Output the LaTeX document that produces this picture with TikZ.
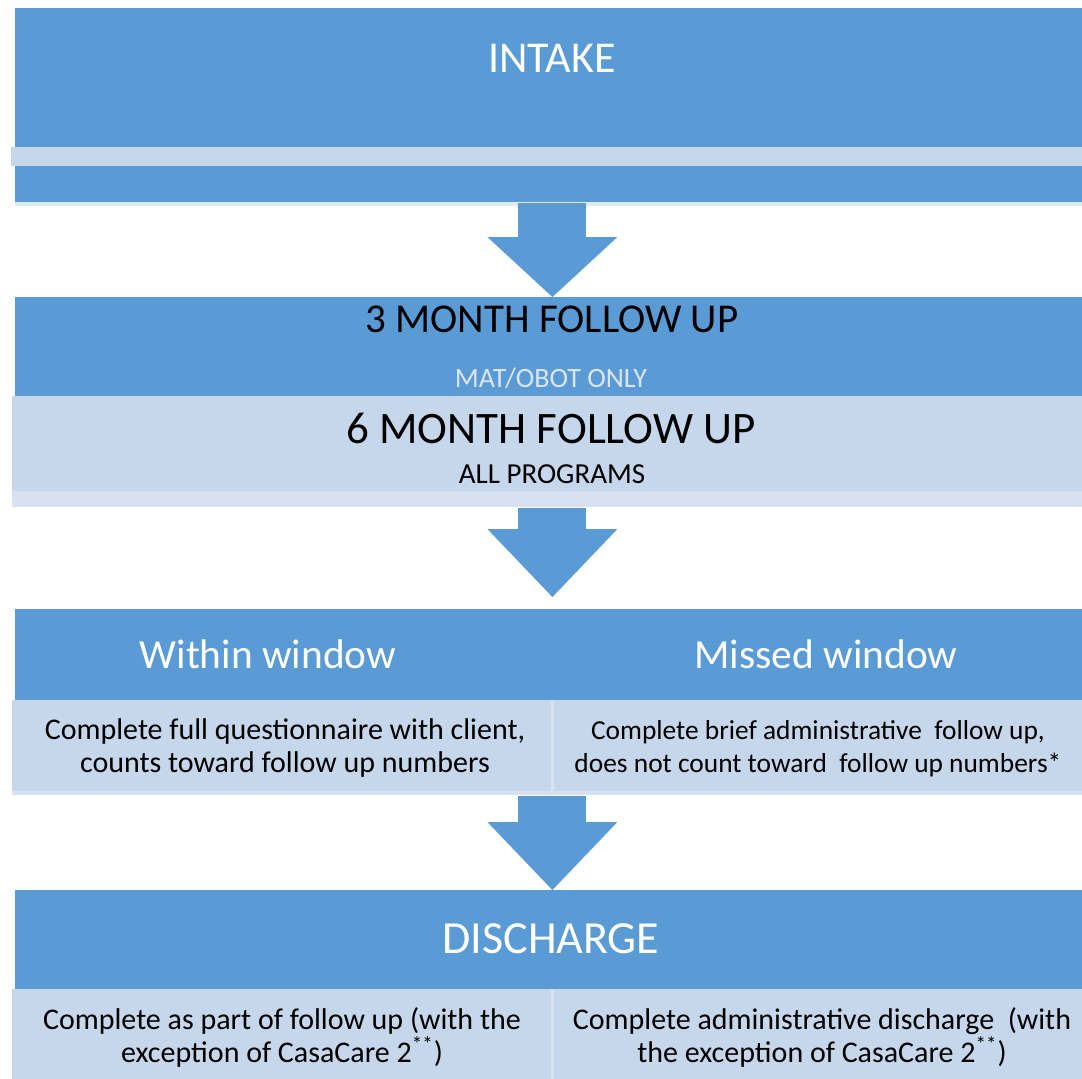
\documentclass[tikz,border=0pt]{standalone}
\usepackage{fontspec}
\setmainfont{Carlito}
\usetikzlibrary{arrows.meta}
\definecolor{boxblue}{HTML}{5B9BD5}
\definecolor{rowblue}{HTML}{C6D7EC}
\definecolor{bandblue}{HTML}{D6E2F2}
\definecolor{lineblue}{HTML}{E0EAF5}
\definecolor{noteblue}{HTML}{DCE6F3}

\begin{document}
\begin{tikzpicture}[x=0.5pt, y=-0.5pt,
    darkbox/.style={rectangle, fill=boxblue, inner sep=0pt, anchor=north west, minimum width=537pt},
    lightbox/.style={rectangle, fill=rowblue, inner sep=0pt, anchor=north west},
    band/.style={rectangle, fill=bandblue, inner sep=0pt, anchor=north west, minimum width=540pt},
    title/.style={anchor=base, inner sep=0pt},
    celltext/.style={align=center, inner sep=0pt, font=\fontsize{15pt}{16.5pt}\selectfont},
    flow/.style={draw=boxblue, line width=34pt},
    divider/.style={draw=bandblue, line width=1.5pt}]
    \useasboundingbox[fill=white] (0,0) rectangle (1082,1078);

    \node[darkbox, minimum height=97pt] (intake) at (15,8) {};
    \node[band, fill=rowblue, minimum width=539pt, minimum height=9.5pt] (band1) at (11,147) {};
    \node[darkbox, fill=lineblue, minimum height=2pt] (line1) at (15,202) {};
    \node[title, text=white, font=\fontsize{22pt}{26pt}\selectfont] (intaketxt) at (552,72) {INTAKE};

    \node[darkbox, minimum height=49.5pt] (threem) at (15,297) {};
    \node[lightbox, minimum width=540pt, minimum height=47.5pt] (sixm) at (12,396) {};
    \node[band, minimum height=8pt] (band2) at (12,491) {};
    \node[title, font=\fontsize{20.5pt}{24pt}\selectfont] (threemtxt) at (552,332) {3 MONTH FOLLOW UP};
    \node[title, text=noteblue, font=\fontsize{14pt}{16pt}\selectfont] (matobot) at (551,387) {MAT/OBOT ONLY};
    \node[title, font=\fontsize{22.5pt}{26pt}\selectfont] (sixmtxt) at (551,443) {6 MONTH FOLLOW UP};
    \node[title, font=\fontsize{14.5pt}{16pt}\selectfont] (allprog) at (552,483) {ALL PROGRAMS};

    \node[darkbox, minimum height=45.5pt] (window) at (15,609) {};
    \node[lightbox, minimum width=270pt, minimum height=45.5pt] (within) at (12,700) {};
    \node[lightbox, minimum width=270pt, minimum height=45.5pt] (missed) at (552,700) {};
    \node[band, minimum height=2pt] (band3) at (12,791) {};
    \node[title, text=white, font=\fontsize{20.7pt}{24pt}\selectfont] (withintxt) at (268,668) {Within window};
    \node[title, text=white, font=\fontsize{20.7pt}{24pt}\selectfont] (missedtxt) at (826,668) {Missed window};
    \node[celltext] (withinnote) at (285,748) {Complete full questionnaire with client,\\counts toward follow up numbers};
    \node[celltext, font=\fontsize{13.7pt}{16.5pt}\selectfont] (missednote) at (818,749) {Complete brief administrative\ \ follow up,\\does not count toward\ \ follow up numbers*};

    \node[darkbox, minimum height=49.5pt] (discharge) at (15,890) {};
    \node[lightbox, minimum width=270pt, minimum height=45pt] (followup) at (12,989) {};
    \node[lightbox, minimum width=270pt, minimum height=45pt] (admin) at (552,989) {};
    \node[title, text=white, font=\fontsize{23pt}{26pt}\selectfont] (dischargetxt) at (551,953) {DISCHARGE};
    \node[celltext] (followupnote) at (282,1037) {Complete as part of follow up (with the\\exception of CasaCare 2\textsuperscript{**})};
    \node[celltext] (adminnote) at (822,1037) {Complete administrative discharge\ \ (with\\the exception of CasaCare 2\textsuperscript{**})};

    \draw[divider] (within.north east) -- (within.south east);
    \draw[divider] (followup.north east) -- (followup.south east);

    \draw[flow, -{Triangle[width=65pt, length=30pt, line width=0pt]}] (intake.south) -- (threem.north);
    \draw[flow, -{Triangle[width=65pt, length=34pt, line width=0pt]}, shorten >=6pt] (band2.south) -- (window.north);
    \draw[flow, -{Triangle[width=65pt, length=34pt, line width=0pt]}] (band3.south) -- (discharge.north);
\end{tikzpicture}
\end{document}
